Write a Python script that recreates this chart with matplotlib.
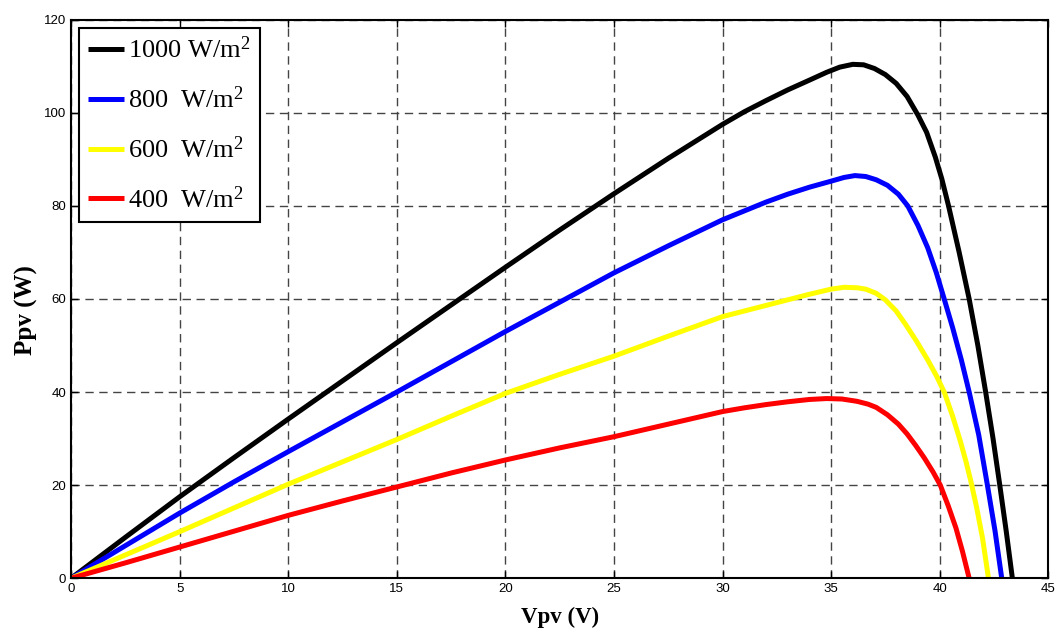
import matplotlib.pyplot as plt

plt.rcParams['mathtext.fontset'] = 'custom'
plt.rcParams['mathtext.rm'] = 'Liberation Serif'
plt.rcParams['mathtext.it'] = 'Liberation Serif:italic'

# P-V curves of the PV module at four irradiance levels
v_1000 = [0, 2.5, 5, 7.5, 10, 12.5, 15, 17.5, 20, 22.5, 25, 27.5, 30, 31, 32, 33, 34,
          34.8, 35.4, 36.0, 36.5, 37.0, 37.5, 38.0, 38.5, 39.0, 39.4, 39.8, 40.1,
          40.41, 40.9, 41.36, 41.76, 42.12, 42.46, 42.77, 43.07, 43.35]
p_1000 = [0, 8.8, 17.5, 25.9, 34.2, 42.4, 50.6, 58.7, 66.8, 74.8, 82.6, 90.2, 97.5,
          100.2, 102.6, 104.9, 107.0, 108.7, 109.8, 110.4, 110.3, 109.5, 108.2,
          106.3, 103.5, 99.5, 95.8, 90.5, 85.8, 80, 70, 60, 50, 40, 30, 20, 10, 0]

v_800 = [0, 2.5, 5, 7.5, 10, 12.5, 15, 17.5, 20, 22.5, 25, 27.5, 30, 31, 32, 33, 34,
         35, 35.6, 36.1, 36.6, 37.08, 37.6, 38.1, 38.53, 39.0, 39.45, 39.85, 40.21,
         40.6, 41.0, 41.36, 41.8, 42.2, 42.55, 42.86]
p_800 = [0, 7, 14, 20.7, 27.2, 33.6, 40, 46.5, 53, 59.3, 65.6, 71.4, 77, 78.9, 80.8,
         82.5, 84.0, 85.3, 86.1, 86.5, 86.3, 85.6, 84.4, 82.5, 80, 75.8, 71, 65.6,
         60, 53.8, 46.9, 40, 30.8, 20, 10.2, 0]

v_600 = [0, 2.5, 5, 7.5, 10, 12.5, 15, 17.5, 20, 22.5, 25, 27.5, 30, 31, 32, 33, 34,
         35, 35.6, 36.2, 36.6, 37.08, 37.5, 38.0, 38.45, 38.95, 39.45, 39.85, 40.21,
         40.6, 40.95, 41.2, 41.43, 41.7, 41.98, 42.25]
p_600 = [0, 5, 10, 15.1, 20.2, 25, 29.8, 34.8, 39.7, 43.8, 47.7, 52, 56.2, 57.4, 58.6,
         59.8, 61, 62.1, 62.5, 62.4, 62.1, 61.2, 59.8, 57.4, 54.4, 50.8, 46.9, 43.5,
         40, 34.8, 29.5, 25.3, 21, 15.3, 8.5, 0]

v_400 = [0, 2.5, 5, 7.5, 10, 12.5, 15, 17.5, 20, 22.5, 25, 27.5, 30, 31, 32, 33, 34,
         34.8, 35.5, 36.2, 36.7, 37.08, 37.6, 38.1, 38.5, 38.9, 39.3, 39.7, 40.03,
         40.4, 40.75, 41.05, 41.36]
p_400 = [0, 3.3, 6.7, 10.1, 13.5, 16.6, 19.6, 22.6, 25.4, 28, 30.4, 33.1, 35.8, 36.6,
         37.3, 37.9, 38.4, 38.6, 38.5, 38.0, 37.4, 36.7, 35.1, 33.1, 31, 28.5, 25.8,
         22.8, 20, 15.5, 10.8, 5.8, 0]

labels = ['1000 W/m$^{2}$', '800  W/m$^{2}$', '600  W/m$^{2}$', '400  W/m$^{2}$']
colors = ['black', 'blue', '#ffff00', 'red']

fig = plt.figure(figsize=(10.62, 6.34), dpi=100)
ax = fig.add_axes([0.067, 0.088, 0.920, 0.881])

for v, p, lab, c in zip([v_1000, v_800, v_600, v_400],
                        [p_1000, p_800, p_600, p_400], labels, colors):
    ax.plot(v, p, color=c, lw=3.6, label=lab, solid_capstyle='butt',
            solid_joinstyle='round')

ax.set_xlim(0, 45)
ax.set_ylim(0, 120)
ax.set_xticks(range(0, 46, 5))
ax.set_yticks(range(0, 121, 20))
ax.grid(True, color='#444444', linestyle=(0, (6, 4)), linewidth=1.0)
ax.tick_params(direction='in', top=True, right=True, length=5, width=1,
               labelsize=9.5)
for lbl in ax.get_xticklabels() + ax.get_yticklabels():
    lbl.set_fontfamily('Liberation Sans')
for s in ax.spines.values():
    s.set_linewidth(1.5)

ax.set_xlabel('Vpv (V)', fontfamily='Liberation Serif', fontweight='bold',
              fontsize=16.5)
ax.xaxis.set_label_coords(0.5, -0.052)
ax.set_ylabel('Ppv (W)', fontfamily='Liberation Serif', fontweight='bold',
              fontsize=18, va='center')
ax.yaxis.set_label_coords(-0.046, 0.48)

leg = ax.legend(loc='upper left', prop={'family': 'Liberation Serif', 'size': 19},
                handlelength=1.35, handletextpad=0.15, borderpad=0.35,
                labelspacing=0.88, fancybox=False, framealpha=1,
                edgecolor='black', borderaxespad=0.3)
leg.get_frame().set_linewidth(1.5)

fig.savefig('out.png', dpi=100)
